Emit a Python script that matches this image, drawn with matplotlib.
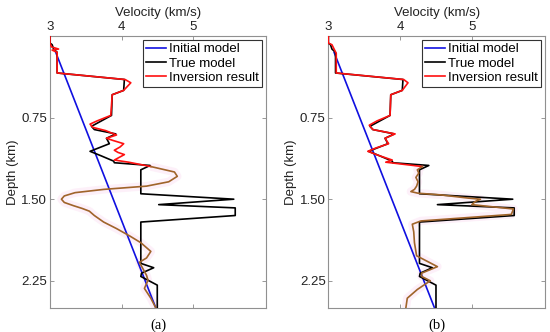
import matplotlib
matplotlib.use("Agg")
import matplotlib.pyplot as plt

plt.rcParams['font.family'] = ['Liberation Sans', 'DejaVu Sans']

# initial model (linear gradient)
init_depth = [0.15, 2.5]
init_vel = [3.08, 4.48]

# true model
true_depth = [0.0, 0.065, 0.08, 0.12, 0.15, 0.34, 0.40, 0.50, 0.54, 0.73, 0.83, 0.86,
              0.90, 0.94, 0.99, 1.06, 1.10, 1.15, 1.165, 1.19, 1.23, 1.45, 1.50, 1.55,
              1.58, 1.65, 1.71, 2.09, 2.13, 2.18, 2.21, 2.29, 2.5]
true_vel = [3.0, 3.0, 3.03, 3.05, 3.1, 3.1, 4.04, 4.03, 3.87, 3.86, 3.58, 3.62,
            3.92, 3.79, 3.83, 3.56, 3.71, 3.89, 3.9, 4.40, 4.27, 4.27, 5.57, 4.52,
            5.59, 5.59, 4.27, 4.27, 4.45, 4.28, 4.27, 4.5, 4.5]

# inversion result (a): upper part (red) and lower part (brown)
inv_a_depth_up = [0.0, 0.065, 0.10, 0.12, 0.13, 0.15, 0.34, 0.40, 0.43, 0.50, 0.54,
                  0.73, 0.78, 0.81, 0.84, 0.87, 0.91, 0.925, 0.94, 0.96, 0.99, 1.02,
                  1.05, 1.07, 1.09, 1.115, 1.14, 1.16, 1.20]
inv_a_vel_up = [3.0, 3.0, 3.02, 3.12, 3.03, 3.10, 3.10, 4.05, 4.13, 4.03, 3.87,
                3.85, 3.66, 3.56, 3.60, 3.78, 3.93, 3.86, 3.79, 3.88, 4.03, 3.98,
                3.90, 3.95, 4.04, 3.97, 3.90, 4.10, 4.41]
inv_a_depth_lo = [1.20, 1.25, 1.29, 1.34, 1.38, 1.41, 1.44, 1.47, 1.50, 1.53, 1.56,
                  1.585, 1.61, 1.65, 1.71, 1.77, 1.84, 1.90, 1.98, 2.04, 2.08, 2.14,
                  2.20, 2.245, 2.32, 2.41, 2.5]
inv_a_vel_lo = [4.41, 4.74, 4.78, 4.66, 4.35, 3.75, 3.35, 3.20, 3.16, 3.20, 3.33,
                3.45, 3.55, 3.62, 3.75, 3.93, 4.12, 4.27, 4.41, 4.35, 4.25, 4.30,
                4.35, 4.37, 4.32, 4.41, 4.48]

# inversion result (b)
inv_b_depth_up = [0.0, 0.065, 0.08, 0.16, 0.34, 0.40, 0.43, 0.50, 0.54, 0.73, 0.78,
                  0.82, 0.86, 0.90, 0.94, 0.99, 1.03, 1.06, 1.10, 1.14, 1.16, 1.20]
inv_b_vel_up = [3.0, 3.0, 3.05, 3.11, 3.11, 4.05, 4.11, 4.03, 3.87, 3.86, 3.68,
                3.57, 3.62, 3.93, 3.79, 3.84, 3.66, 3.55, 3.71, 3.89, 3.80, 4.31]
inv_b_depth_lo = [1.20, 1.23, 1.26, 1.30, 1.34, 1.38, 1.41, 1.43, 1.445, 1.46, 1.49,
                  1.50, 1.52, 1.55, 1.59, 1.64, 1.70, 1.73, 1.80, 1.90, 2.02, 2.12,
                  2.18, 2.21, 2.25, 2.33, 2.41, 2.5]
inv_b_vel_lo = [4.31, 4.24, 4.26, 4.22, 4.25, 4.23, 4.20, 4.15, 4.25, 4.56, 4.95,
                5.12, 5.05, 5.00, 5.58, 5.55, 4.29, 4.17, 4.19, 4.20, 4.23, 4.52,
                4.30, 4.30, 4.42, 4.24, 4.10, 4.08]

fig = plt.figure(figsize=(5.5, 3.32), dpi=100)
ax1 = fig.add_axes([0.0909, 0.0723, 0.3927, 0.8193])
ax2 = fig.add_axes([0.597, 0.0723, 0.394, 0.8193])

panels = [
    (ax1, inv_a_depth_up, inv_a_vel_up, inv_a_depth_lo, inv_a_vel_lo, '(a)'),
    (ax2, inv_b_depth_up, inv_b_vel_up, inv_b_depth_lo, inv_b_vel_lo, '(b)'),
]

for ax, du, vu, dl, vl, tag in panels:
    # faint pink halo seen around the lower part of the inversion curve
    ax.plot(vl, dl, color='#fdf0f9', lw=6, solid_capstyle='butt', zorder=1)
    ax.plot(init_vel, init_depth, color='#1010e0', lw=1.2, label='Initial model', zorder=2)
    ax.plot(true_vel, true_depth, color='black', lw=1.2, label='True model', zorder=3)
    ax.plot(vu, du, color='#ff1010', lw=1.2, label='Inversion result', zorder=4)
    ax.plot(vl, dl, color='#a0642a', lw=1.2, zorder=4)

    ax.set_xlim(3, 6.02)
    ax.set_ylim(2.5, 0)
    ax.set_xticks([3, 4, 5])
    ax.set_yticks([0.75, 1.50, 2.25])
    ax.set_yticklabels(['0.75', '1.50', '2.25'])
    ax.xaxis.tick_top()
    ax.xaxis.set_label_position('top')
    ax.tick_params(direction='in', length=3, width=0.6, top=True, bottom=True,
                   left=True, right=True, labelsize=9.5, colors='#888888',
                   labelcolor='#222222', pad=2)
    for s in ax.spines.values():
        s.set_color('#909090')
        s.set_linewidth(0.8)
    ax.set_xlabel('Velocity (km/s)', fontsize=9.5, labelpad=4, color='#222222')
    ax.set_ylabel('Depth (km)', fontsize=9.5, labelpad=2, color='#222222')

    leg = ax.legend(loc='upper right', fontsize=9.5, fancybox=False, framealpha=1,
                    edgecolor='#333333', borderpad=0.25, labelspacing=0.15,
                    handlelength=1.5, handletextpad=0.2, borderaxespad=0.3)
    leg.get_frame().set_linewidth(0.8)

    ax.text(0.5, -0.04, tag, transform=ax.transAxes, ha='center', va='top',
            fontsize=10.5, family=['Liberation Serif', 'DejaVu Serif'])

fig.savefig('out.png', dpi=100)
